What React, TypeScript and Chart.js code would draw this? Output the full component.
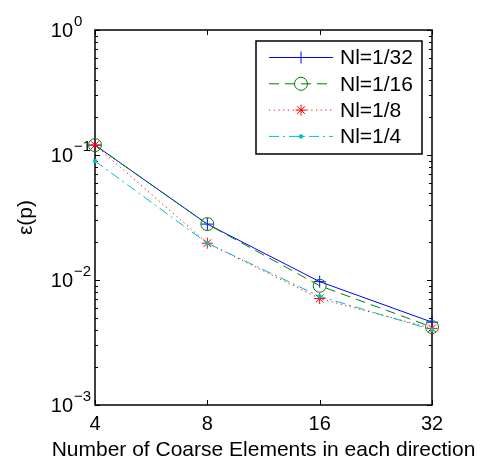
import React, { useEffect, useRef } from 'react';
import { Chart, registerables } from 'chart.js';

Chart.register(...registerables);

// ---- data ----
const xValues = [4, 8, 16, 32];
const seriesLabels = ['Nl=1/32', 'Nl=1/16', 'Nl=1/8', 'Nl=1/4'];
const nl32 = [0.12, 0.028, 0.0097, 0.0046];
const nl16 = [0.12, 0.028, 0.009, 0.0042];
const nl8 = [0.12, 0.0197, 0.0071, 0.0041];
const nl4 = [0.0895, 0.0197, 0.0074, 0.004];
const yTickExponents = [-3, -2, -1, 0];
const xTitle = 'Number of Coarse Elements in each direction';
const yTitle = 'ε(p)';

const FONT = '"Liberation Sans", Arial, Helvetica, sans-serif';

type Style = {
  color: string;
  dash: number[];
  point: 'cross' | 'circle' | 'star' | 'dot';
  radius: number;
};
const styles: Style[] = [
  { color: '#0000ff', dash: [], point: 'cross', radius: 6 },
  { color: '#008000', dash: [10, 6], point: 'circle', radius: 6.5 },
  { color: '#ff0000', dash: [1.2, 3.5], point: 'star', radius: 5.5 },
  { color: '#00bfbf', dash: [10, 4, 2, 4], point: 'dot', radius: 2.2 },
];
const seriesData = [nl32, nl16, nl8, nl4];

function drawMarker(ctx: CanvasRenderingContext2D, s: Style, x: number, y: number) {
  ctx.save();
  ctx.setLineDash([]);
  ctx.strokeStyle = s.color;
  ctx.fillStyle = s.color;
  ctx.lineWidth = 1;
  const r = s.radius;
  ctx.beginPath();
  if (s.point === 'cross') {
    ctx.moveTo(x - r, y); ctx.lineTo(x + r, y);
    ctx.moveTo(x, y - r); ctx.lineTo(x, y + r);
    ctx.stroke();
  } else if (s.point === 'circle') {
    ctx.arc(x, y, r, 0, Math.PI * 2);
    ctx.stroke();
  } else if (s.point === 'star') {
    ctx.moveTo(x - r, y); ctx.lineTo(x + r, y);
    ctx.moveTo(x, y - r); ctx.lineTo(x, y + r);
    const d = r * Math.SQRT1_2;
    ctx.moveTo(x - d, y - d); ctx.lineTo(x + d, y + d);
    ctx.moveTo(x - d, y + d); ctx.lineTo(x + d, y - d);
    ctx.stroke();
  } else {
    ctx.arc(x, y, r, 0, Math.PI * 2);
    ctx.fill();
  }
  ctx.restore();
}

const axesPlugin = {
  id: 'axesDecor',
  beforeDatasetsDraw(chart: any) {
    const { ctx, chartArea: a, scales } = chart;
    const xs = scales.x;
    const ys = scales.y;
    ctx.save();
    ctx.strokeStyle = '#000';
    ctx.lineWidth = 1;
    ctx.beginPath();
    yTickExponents.forEach((e) => {
      const py = Math.round(ys.getPixelForValue(Math.pow(10, e))) + 0.5;
      ctx.moveTo(a.left, py); ctx.lineTo(a.left + 5, py);
      ctx.moveTo(a.right, py); ctx.lineTo(a.right - 5, py);
    });
    for (let i = 0; i < yTickExponents.length - 1; i++) {
      for (let m = 2; m <= 9; m++) {
        const v = m * Math.pow(10, yTickExponents[i]);
        const py = Math.round(ys.getPixelForValue(v)) + 0.5;
        ctx.moveTo(a.left, py); ctx.lineTo(a.left + 3, py);
        ctx.moveTo(a.right, py); ctx.lineTo(a.right - 3, py);
      }
    }
    xValues.forEach((v) => {
      const px = Math.round(xs.getPixelForValue(v)) + 0.5;
      ctx.moveTo(px, a.bottom); ctx.lineTo(px, a.bottom - 5);
      ctx.moveTo(px, a.top); ctx.lineTo(px, a.top + 5);
    });
    ctx.stroke();
    ctx.lineWidth = 1.5;
    ctx.strokeRect(a.left, a.top, a.right - a.left, a.bottom - a.top);
    ctx.fillStyle = '#000';
    yTickExponents.forEach((e) => {
      const py = ys.getPixelForValue(Math.pow(10, e));
      const baseRight = a.left - 22;
      ctx.font = `20px ${FONT}`;
      ctx.textAlign = 'right';
      ctx.textBaseline = 'middle';
      ctx.fillText('10', baseRight, py + 1);
      ctx.font = `15px ${FONT}`;
      ctx.textAlign = 'left';
      ctx.fillText(e === 0 ? '0' : '\u2212' + Math.abs(e), baseRight + 1, py - 8);
    });
    ctx.font = `21px ${FONT}`;
    ctx.textAlign = 'center';
    ctx.textBaseline = 'alphabetic';
    ctx.fillText(xTitle, (a.left + a.right) / 2, a.bottom + 51);
    ctx.restore();
  },
  afterDraw(chart: any) {
    const { ctx, chartArea: a } = chart;
    ctx.save();
    const right = a.right - 10;
    const left = right - 166;
    const top = a.top + 11;
    const bottom = top + 113;
    ctx.fillStyle = '#fff';
    ctx.fillRect(left, top, right - left, bottom - top);
    ctx.strokeStyle = '#000';
    ctx.lineWidth = 1.5;
    ctx.strokeRect(left, top, right - left, bottom - top);
    seriesLabels.forEach((label, i) => {
      const s = styles[i];
      const cy = top + 16.5 + i * 26.3;
      const x0 = left + 13;
      const x1 = left + 77;
      ctx.strokeStyle = s.color;
      ctx.lineWidth = 1;
      ctx.setLineDash(s.dash);
      ctx.beginPath();
      ctx.moveTo(x0, cy);
      ctx.lineTo(x1, cy);
      ctx.stroke();
      ctx.setLineDash([]);
      drawMarker(ctx, s, (x0 + x1) / 2, cy);
      ctx.fillStyle = '#000';
      ctx.font = `21px ${FONT}`;
      ctx.textAlign = 'left';
      ctx.textBaseline = 'middle';
      ctx.fillText(label, x1 + 7, cy + 1);
    });
    ctx.restore();
  },
};

export default function App() {
  const canvasRef = useRef<HTMLCanvasElement | null>(null);

  useEffect(() => {
    const canvas = canvasRef.current;
    if (!canvas) return;
    const datasets = seriesData.map((vals, i) => {
      const s = styles[i];
      return {
        label: seriesLabels[i],
        data: xValues.map((x, j) => ({ x, y: vals[j] })),
        borderColor: s.color,
        backgroundColor: s.point === 'dot' ? s.color : 'rgba(0,0,0,0)',
        borderWidth: 1,
        borderDash: s.dash,
        pointStyle: s.point === 'dot' ? 'circle' : s.point,
        pointRadius: s.radius,
        pointBorderWidth: s.point === 'dot' ? 0 : 1,
        pointBorderColor: s.color,
        pointBackgroundColor: s.point === 'dot' ? s.color : 'rgba(0,0,0,0)',
        pointHoverRadius: s.radius,
        tension: 0,
        clip: false as any,
        order: seriesData.length - i,
      };
    });
    const chart = new Chart(canvas, {
      type: 'line',
      data: { datasets },
      options: {
        responsive: false,
        animation: false,
        events: [],
        layout: { padding: { left: 0, top: 30, right: 63, bottom: 0 } },
        plugins: { legend: { display: false }, tooltip: { enabled: false } },
        scales: {
          x: {
            type: 'logarithmic',
            min: 4,
            max: 32,
            afterBuildTicks: (scale: any) => {
              scale.ticks = xValues.map((v) => ({ value: v }));
            },
            afterFit: (scale: any) => {
              scale.height = 54;
            },
            grid: { display: false, drawTicks: false },
            border: { display: false },
            ticks: {
              autoSkip: false,
              maxRotation: 0,
              padding: 7,
              color: '#000',
              font: { family: FONT, size: 20 },
              callback: (v: any) => String(v),
            },
            title: { display: false },
          },
          y: {
            type: 'logarithmic',
            min: 0.001,
            max: 1,
            afterFit: (scale: any) => {
              scale.width = 95;
            },
            grid: { display: false, drawTicks: false },
            border: { display: false },
            ticks: { display: false },
            title: {
              display: true,
              text: yTitle,
              color: '#000',
              font: { family: FONT, size: 21 },
              padding: { top: 14, bottom: 0 },
            },
          },
        },
      },
      plugins: [axesPlugin],
    });
    return () => chart.destroy();
  }, []);

  return (
    <div style={{ position: 'absolute', left: 0, top: 0, width: 495, height: 459, background: '#fff' }}>
      <canvas ref={canvasRef} width={495} height={459} style={{ display: 'block' }} />
    </div>
  );
}
